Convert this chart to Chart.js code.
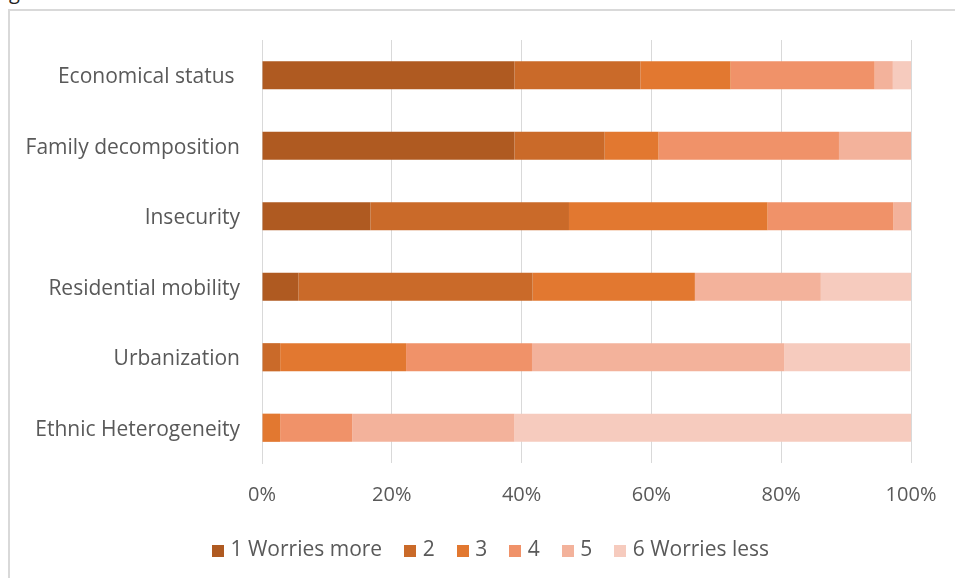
<!DOCTYPE html>
<html>
<head>
<meta charset="utf-8">
<script src="https://cdn.jsdelivr.net/npm/chart.js@4"></script>
<style>
  body { margin: 0; background: #fff; overflow: hidden; }
  #wrap { position: relative; width: 955px; height: 578px; }
  #frame { position: absolute; left: 8px; top: 9px; width: 960px; height: 580px;
           border-left: 2px solid #d9d9d9; border-top: 2px solid #d9d9d9; }
  #cut { position: absolute; left: 9px; top: -18px; font: 20px 'Open Sans'; line-height: 20px; color: #222; }
  canvas { position: absolute; left: 0; top: 0; }
</style>
</head>
<body>
<div id="wrap">
  <div id="cut">g</div>
  <div id="frame"></div>
  <canvas id="chart" width="955" height="578"></canvas>
</div>
<script>
// share of answers per factor, in %
const categories = ['Economical status ', 'Family decomposition', 'Insecurity', 'Residential mobility', 'Urbanization', 'Ethnic Heterogeneity'];
const seriesNames = ['1 Worries more', '2', '3', '4', '5', '6 Worries less'];
const level1 = [38.9, 38.9, 16.7, 5.6, 0, 0];
const level2 = [19.4, 13.9, 30.6, 36.1, 2.8, 0];
const level3 = [13.9, 8.3, 30.6, 25.0, 19.4, 2.8];
const level4 = [22.2, 27.8, 19.4, 0, 19.4, 11.1];
const level5 = [2.8, 11.1, 2.8, 19.4, 38.9, 25.0];
const level6 = [2.8, 0, 0, 13.9, 19.4, 61.1];
const xTicks = [0, 20, 40, 60, 80, 100];

const colors = ['#AF5A21', '#CA6A29', '#E27830', '#F09269', '#F3B29B', '#F6CBBE'];

// small square swatches for the legend (closer to the text than the default box)
function makeSwatch(color) {
  const c = document.createElement('canvas');
  c.width = 12;
  c.height = 12;
  const g = c.getContext('2d');
  g.fillStyle = color;
  g.fillRect(0, 0, 12, 12);
  return c;
}

// legend is centred under the plot area in the original, not the whole canvas
const shiftLegend = {
  id: 'shiftLegend',
  afterLayout(chart) {
    chart.legend.left += 37;
    chart.legend.right += 37;
  }
};

function loadChart() {
  const values = [level1, level2, level3, level4, level5, level6];
  const swatches = colors.map(makeSwatch);
  const ctx = document.getElementById('chart').getContext('2d');
  Chart.defaults.font.family = "'Open Sans'";
  Chart.defaults.color = '#595959';

  new Chart(ctx, {
    type: 'bar',
    data: {
      labels: categories,
      datasets: values.map((v, i) => ({
        label: seriesNames[i],
        data: v,
        backgroundColor: colors[i],
        borderWidth: 0,
        categoryPercentage: 0.8,
        barPercentage: 0.5
      }))
    },
    options: {
      indexAxis: 'y',
      responsive: false,
      animation: false,
      layout: { padding: { top: 40, right: 44, bottom: 7, left: 0 } },
      scales: {
        x: {
          stacked: true,
          min: 0,
          max: 100,
          afterBuildTicks: (scale) => { scale.ticks = xTicks.map(v => ({ value: v })); },
          afterFit: (scale) => {
            scale.height = 51;
            scale.paddingLeft = 0;
            scale.paddingRight = 0;
          },
          grid: { color: '#d9d9d9', drawTicks: false },
          border: { display: false },
          ticks: { padding: 20, font: { size: 20 }, callback: (v) => v + '%' }
        },
        y: {
          stacked: true,
          afterFit: (scale) => { scale.width = 262; },
          grid: { display: false, drawTicks: false },
          border: { display: true, color: '#d9d9d9' },
          ticks: { padding: 22, labelOffset: 2, font: { size: 21 } }
        }
      },
      plugins: {
        legend: {
          position: 'bottom',
          labels: {
            usePointStyle: true,
            pointStyleWidth: 4,
            boxHeight: 12,
            padding: 26,
            font: { size: 21 },
            generateLabels: (chart) => Chart.defaults.plugins.legend.labels.generateLabels(chart)
              .map((item, i) => ({ ...item, pointStyle: swatches[i] }))
          }
        },
        tooltip: { enabled: false }
      }
    },
    plugins: [shiftLegend]
  });
}

document.addEventListener('DOMContentLoaded', loadChart);
</script>
</body>
</html>
